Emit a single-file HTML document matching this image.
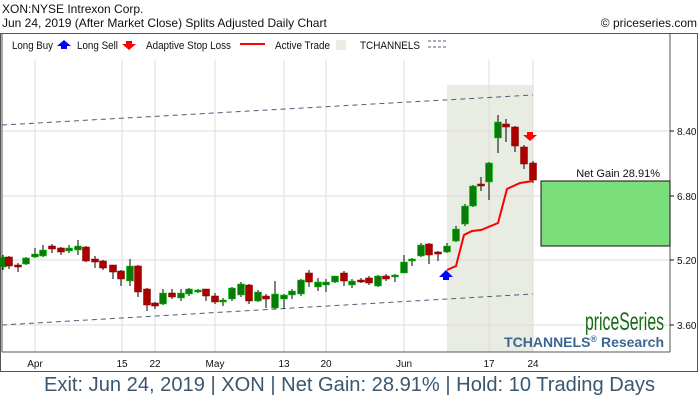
<!DOCTYPE html>
<html><head><meta charset="utf-8"><style>
body{margin:0;background:#fff;}
svg text{font-family:"Liberation Sans",sans-serif;}
</style></head><body>
<svg width="700" height="400" xmlns="http://www.w3.org/2000/svg">
<rect width="700" height="400" fill="#fff"/>
<text x="2" y="13" font-size="12" fill="#111">XON:NYSE Intrexon Corp.</text>
<text x="2" y="27" font-size="12" fill="#111">Jun 24, 2019 (After Market Close)  Splits Adjusted Daily Chart</text>
<text x="697" y="27" font-size="12" fill="#111" text-anchor="end">© priceseries.com</text>
<rect x="447" y="85" width="86" height="267" fill="#e9ece2"/>
<g stroke="#ddd" stroke-width="1">
<line x1="2" y1="131" x2="670" y2="131"/><line x1="2" y1="196" x2="670" y2="196"/>
<line x1="2" y1="260" x2="670" y2="260"/><line x1="2" y1="325" x2="670" y2="325"/>
<line x1="35" y1="60" x2="35" y2="352"/><line x1="122" y1="60" x2="122" y2="352"/>
<line x1="155" y1="60" x2="155" y2="352"/><line x1="215" y1="60" x2="215" y2="352"/>
<line x1="284" y1="60" x2="284" y2="352"/><line x1="326" y1="60" x2="326" y2="352"/>
<line x1="404" y1="60" x2="404" y2="352"/><line x1="489" y1="60" x2="489" y2="352"/>
<line x1="533" y1="60" x2="533" y2="352"/>
</g>
<rect x="0.5" y="33.5" width="697" height="338" fill="none" stroke="#555"/>
<line x1="2" y1="33" x2="2" y2="352" stroke="#555"/>
<line x1="670" y1="33" x2="670" y2="352" stroke="#555"/>
<line x1="2" y1="352" x2="670" y2="352" stroke="#555"/>
<g font-size="11" fill="#111">
<text x="12" y="49" textLength="41" lengthAdjust="spacingAndGlyphs">Long Buy</text>
<polygon points="64,40 57,46 61,46 61,49 67,49 67,46 71,46" fill="#00f"/>
<text x="77" y="49" textLength="41" lengthAdjust="spacingAndGlyphs">Long Sell</text>
<polygon points="129,50 122,44 126,44 126,41 132,41 132,44 136,44" fill="#f00"/>
<text x="146" y="49" textLength="85" lengthAdjust="spacingAndGlyphs">Adaptive Stop Loss</text>
<line x1="240" y1="44" x2="265" y2="44" stroke="#f00" stroke-width="2"/>
<text x="275" y="49" textLength="55" lengthAdjust="spacingAndGlyphs">Active Trade</text>
<rect x="336" y="40" width="10" height="10" fill="#e9ece2"/>
<text x="360" y="49" textLength="60" lengthAdjust="spacingAndGlyphs">TCHANNELS</text>
<line x1="428" y1="41" x2="446" y2="41" stroke="#4a6078" stroke-dasharray="3,2"/>
<line x1="428" y1="47" x2="446" y2="47" stroke="#4a6078" stroke-dasharray="3,2"/>
</g>
<line x1="2" y1="125" x2="533" y2="95" stroke="#4a6078" stroke-dasharray="5,4"/>
<line x1="2" y1="325" x2="533" y2="294" stroke="#4a6078" stroke-dasharray="5,4"/>
<g id="c"></g>
<polyline points="447,270 456,266 464,235 472,231 481,230 498,223 507,189 520,183 533,181" fill="none" stroke="#f00" stroke-width="2"/>
<polygon points="446,270 439,277 443,277 443,280 449,280 449,277 453,277" fill="#00f"/>
<polygon points="530,141 523,135 527,135 527,132 533,132 533,135 537,135" fill="#f00"/>
<rect x="541" y="181" width="129" height="65" fill="#7ade7a" stroke="#111"/>
<text x="660" y="177" font-size="11" fill="#111" text-anchor="end">Net Gain 28.91%</text>
<g font-size="10" fill="#111">
<line x1="670" y1="131" x2="674" y2="131" stroke="#111"/><text x="677" y="135">8.40</text>
<line x1="670" y1="196" x2="674" y2="196" stroke="#111"/><text x="677" y="200">6.80</text>
<line x1="670" y1="260" x2="674" y2="260" stroke="#111"/><text x="677" y="264">5.20</text>
<line x1="670" y1="325" x2="674" y2="325" stroke="#111"/><text x="677" y="329">3.60</text>
</g>
<g font-size="10" fill="#111" text-anchor="middle">
<text x="35" y="367">Apr</text><text x="122" y="367">15</text><text x="155" y="367">22</text>
<text x="215" y="367">May</text><text x="284" y="367">13</text><text x="326" y="367">20</text>
<text x="404" y="367">Jun</text><text x="489" y="367">17</text><text x="533" y="367">24</text>
</g>
<text x="585" y="330" font-size="25" fill="#1a6a1a" textLength="79" lengthAdjust="spacingAndGlyphs">priceSeries</text>
<text x="664" y="347" font-size="14" font-weight="bold" fill="#3d6591" text-anchor="end">TCHANNELS<tspan font-size="9" dy="-5">®</tspan><tspan dy="5"> Research</tspan></text>
<text x="44" y="391" font-size="20" fill="#3b5770" textLength="611" lengthAdjust="spacingAndGlyphs">Exit: Jun 24, 2019 | XON | Net Gain: 28.91% | Hold: 10 Trading Days</text>
</svg>
<script>
var d=[[3,257,267,'g',255,270],[9,257,266,'r',256,269],[18,265,266,'r',263,272],[26,258,264,'g',257,265],[35,254,257,'g',248,258],[43,250,256,'g',245,257],[52,246,249,'r',244,253],[61,248,252,'r',247,255],[69,248,251,'g',245,253],[78,246,250,'g',240,255],[86,247,261,'r',246,262],[95,259,262,'r',256,268],[103,261,268,'r',260,270],[113,265,272,'r',265,279],[121,271,279,'r',270,286],[130,266,281,'g',259,286],[138,266,292,'r',265,297],[147,289,305,'r',288,311],[155,303,306,'r',302,309],[163,293,304,'g',289,305],[172,293,297,'r',289,299],[181,293,298,'g',289,301],[189,289,294,'g',288,296],[198,290,292,'g',289,293],[206,289,296,'r',289,301],[215,296,302,'r',293,304],[223,300,302,'g',298,306],[232,288,299,'g',287,301],[241,284,295,'g',282,297],[249,285,301,'r',284,304],[258,292,301,'g',290,302],[266,296,299,'r',294,308],[275,294,308,'g',281,309],[284,295,299,'g',294,309],[292,291,295,'g',289,299],[301,280,294,'g',279,296],[309,273,282,'r',270,287],[318,282,287,'g',278,291],[326,282,285,'g',279,292],[335,276,282,'g',276,283],[344,273,281,'r',271,286],[352,281,285,'g',279,288],[361,280,282,'r',278,283],[369,278,283,'r',276,285],[378,276,286,'g',275,287],[386,276,279,'r',274,281],[395,275,277,'g',274,282],[404,262,273,'g',255,273],[412,259,261,'g',258,266],[421,245,256,'g',243,257],[429,244,255,'r',243,264],[438,252,253,'r',251,261],[447,246,252,'g',243,253],[456,229,241,'g',226,242],[465,206,224,'g',204,226],[473,186,206,'g',185,207],[481,184,186,'r',177,191],[489,163,182,'g',162,200],[498,122,138,'g',115,153],[506,124,127,'r',119,142],[515,127,146,'r',126,152],[524,147,164,'r',145,169],[533,163,180,'r',161,183]];
var s='';d.forEach(function(c){var col=c[3]=='g'?'#0a7a0a':'#a00';var h=Math.max(2,c[2]-c[1]);
s+='<line x1="'+c[0]+'" y1="'+c[4]+'" x2="'+c[0]+'" y2="'+c[5]+'" stroke="#000"/>';
s+='<rect x="'+(c[0]-3.5)+'" y="'+c[1]+'" width="7" height="'+h+'" fill="'+col+'" stroke="'+(c[3]=='g'?'#0c0':'#800')+'" stroke-width="0.5"/>';});
document.getElementById('c').innerHTML=s;
</script>
</body></html>
